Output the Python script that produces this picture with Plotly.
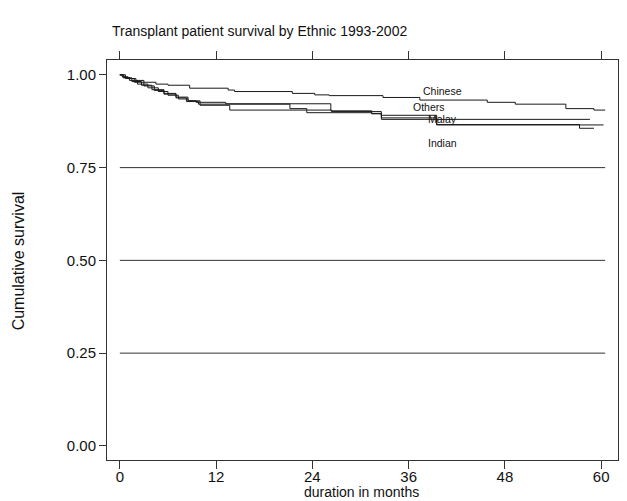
import plotly.graph_objects as go

# ---- data ----
chinese_t = [0, 0.3, 1.0, 2.0, 3.0, 4.5, 6.0, 8.7, 13.5, 14.3, 21.5, 24.3, 26.1, 32.8, 37.4, 45.8, 49.3, 55.6, 59.1, 60.5]
chinese_s = [1.0, 0.995, 0.99, 0.985, 0.980, 0.975, 0.972, 0.964, 0.959, 0.955, 0.950, 0.946, 0.944, 0.939, 0.932, 0.926, 0.921, 0.909, 0.905, 0.905]

others_t = [0, 0.5, 1.2, 2.2, 3.5, 4.8, 6.0, 7.3, 8.5, 9.5, 13.2, 26.3, 31.4, 32.6, 58.6]
others_s = [1.0, 0.993, 0.985, 0.975, 0.965, 0.955, 0.945, 0.935, 0.930, 0.926, 0.922, 0.903, 0.896, 0.880, 0.880]

malay_t = [0, 0.7, 1.8, 3.0, 4.3, 5.5, 7.0, 8.3, 9.8, 21.2, 23.3, 26.4, 32.6, 39.5, 60.3]
malay_s = [1.0, 0.990, 0.980, 0.970, 0.958, 0.948, 0.938, 0.928, 0.921, 0.909, 0.905, 0.901, 0.891, 0.865, 0.865]

indian_t = [0, 0.4, 1.5, 2.7, 4.0, 5.5, 7.0, 8.5, 10.0, 13.7, 23.3, 31.4, 32.6, 39.5, 57.3, 59.1]
indian_s = [1.0, 0.992, 0.982, 0.972, 0.960, 0.950, 0.940, 0.930, 0.918, 0.905, 0.898, 0.895, 0.884, 0.866, 0.856, 0.856]

series_names = ["Chinese", "Others", "Malay", "Indian"]
label_x = [40.2, 38.5, 40.2, 40.2]
label_y = [0.957, 0.914, 0.882, 0.817]

ref_levels = [0.25, 0.50, 0.75]
x_ticks = [0, 12, 24, 36, 48, 60]
y_ticks = [0.0, 0.25, 0.50, 0.75, 1.00]
y_tick_text = ["0.00", "0.25", "0.50", "0.75", "1.00"]

title_text = "Transplant patient survival by Ethnic 1993-2002"
x_title = "duration in months"
y_title = "Cumulative survival"

FONT = "Liberation Sans, Arial, sans-serif"
INK = "#1a1a1a"

fig = go.Figure()

for lv in ref_levels:
    fig.add_trace(go.Scatter(x=[0, 60.5], y=[lv, lv], mode="lines",
                             line=dict(color="#333333", width=1), hoverinfo="skip", showlegend=False))

for t, s in [(chinese_t, chinese_s), (others_t, others_s), (malay_t, malay_s), (indian_t, indian_s)]:
    fig.add_trace(go.Scatter(x=t, y=s, mode="lines", line=dict(color=INK, width=1, shape="hv"),
                             showlegend=False))

for name, lx, ly in zip(series_names, label_x, label_y):
    fig.add_annotation(x=lx, y=ly, xref="x", yref="y", text=name, showarrow=False,
                       font=dict(family=FONT, size=10.5, color="#111"))

# page has an 8px body margin: figure drawn at (8, 8)
OFF = 8
W, H = 627 - OFF, 501 - OFF
PL, PR, PT, PB = 107, 626, 60, 460      # plot box in page pixels
L, R, T, B = PL - OFF, W - (PR - OFF), PT - OFF, H - (PB - OFF)
pw = PR - PL
ph = PB - PT


def px(xp):
    return (xp - PL) / pw


def py(yp):
    return (PB - yp) / ph


fig.add_annotation(x=px(110), y=py(31), xref="paper", yref="paper",
                   text=title_text, showarrow=False, xanchor="left", yanchor="middle",
                   font=dict(family=FONT, size=14, color="#111"))
fig.add_annotation(x=px(365), y=py(492), xref="paper", yref="paper",
                   text=x_title, showarrow=False, xanchor="center", yanchor="middle",
                   font=dict(family=FONT, size=14, color="#111"))
fig.add_annotation(x=px(18), y=py(261), xref="paper", yref="paper",
                   text=y_title, showarrow=False, textangle=-90, xanchor="center", yanchor="middle",
                   font=dict(family=FONT, size=16, color="#111"))

fig.update_layout(
    width=W, height=H,
    margin=dict(l=L, r=R, t=T, b=B, pad=0),
    paper_bgcolor="white", plot_bgcolor="white",
    font=dict(family=FONT, size=15, color="#111"),
    xaxis=dict(range=[-1.6, 62.1], tickvals=x_ticks, ticks="outside", ticklen=8, tickcolor="#333",
               showline=True, linecolor="#333", linewidth=1, mirror="ticks", showgrid=False,
               zeroline=False, tickfont=dict(size=15), ticklabelstandoff=-5),
    yaxis=dict(range=[-0.038, 1.04], tickvals=y_ticks, ticktext=y_tick_text, ticks="outside",
               ticklen=7, tickcolor="#333", showline=True, linecolor="#333", linewidth=1,
               mirror="ticks", showgrid=False, zeroline=False, tickfont=dict(size=15)),
)

fig.write_html("out.html")
